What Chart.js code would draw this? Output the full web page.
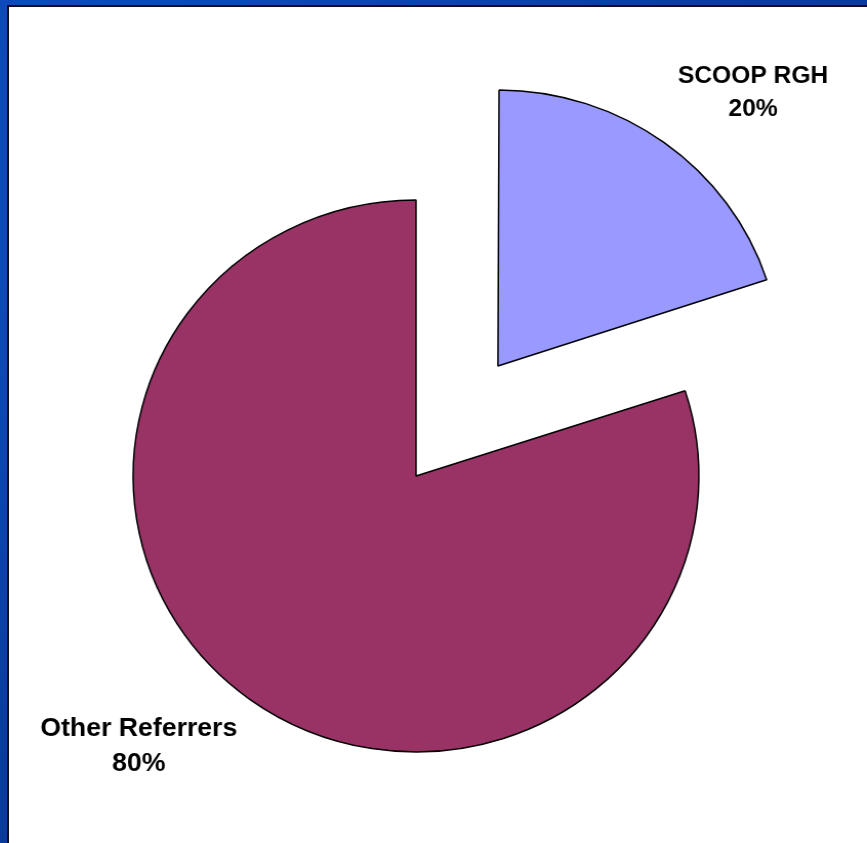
<!DOCTYPE html>
<html>
<head>
<meta charset="utf-8">
<script src="https://cdn.jsdelivr.net/npm/chart.js@4/dist/chart.umd.min.js"></script>
<style>
  html, body { margin: 0; padding: 0; }
  body {
    width: 867px; height: 843px; overflow: hidden; position: relative;
    background:
      radial-gradient(ellipse at 20% 30%, rgba(20,80,200,0.6), rgba(0,0,0,0) 60%),
      radial-gradient(ellipse at 80% 80%, rgba(10,40,140,0.6), rgba(0,0,0,0) 60%),
      linear-gradient(135deg, #0c47b8, #0a3a9e 50%, #0d4cc0);
  }
  #panel {
    position: absolute; left: 7px; top: 5px; right: -4px; bottom: -4px;
    background: #fff; border: 2px solid #111;
  }
  #c { position: absolute; left: 0; top: 0; transform: scaleX(1.025); transform-origin: 416px 0; }
</style>
</head>
<body>
<div id="panel"></div>
<canvas id="c" width="867" height="843"></canvas>
<script>
const categories = ["SCOOP RGH", "Other Referrers"];
const shares = [20, 80];
const percentLabels = ["20%", "80%"];
const sliceColors = ["#9999FF", "#993366"];

// Cancel Chart.js' radius growth on exploded slices so every slice keeps the same radius
const equalRadiusPlugin = {
  id: 'equalRadius',
  afterDatasetUpdate(chart, args) {
    const meta = chart.getDatasetMeta(args.index);
    meta.data.forEach(arc => {
      const off = ((arc.options && arc.options.offset) || 0) / 4;
      const circ = arc.endAngle - arc.startAngle;
      const fix = 1 - Math.sin(Math.min(Math.PI, circ));
      arc.outerRadius = arc.outerRadius - off * fix;
    });
  }
};

const labelPlugin = {
  id: 'sliceLabels',
  afterDatasetsDraw(chart, args, opts) {
    const ctx = chart.ctx;
    const meta = chart.getDatasetMeta(0);
    ctx.save();
    ctx.fillStyle = '#000';
    ctx.textAlign = 'center';
    ctx.textBaseline = 'middle';
    meta.data.forEach((arc, i) => {
      const p = arc.getProps(['x', 'y', 'startAngle', 'endAngle'], true);
      const R = chart.options.radius;
      const mid = (p.startAngle + p.endAngle) / 2 + opts.angleShift[i] * Math.PI / 180;
      const d = R * opts.distance[i];
      const cx = p.x + Math.cos(mid) * d;
      const cy = p.y + Math.sin(mid) * d;
      ctx.font = 'bold ' + opts.fontSize[i] + 'px "Liberation Sans", Arial, sans-serif';
      const h = opts.lineGap[i] / 2;
      ctx.fillText(categories[i], cx, cy - h);
      ctx.fillText(percentLabels[i], cx, cy + h);
    });
    ctx.restore();
  }
};

new Chart(document.getElementById('c'), {
  type: 'pie',
  data: {
    labels: categories,
    datasets: [{
      data: shares,
      backgroundColor: sliceColors,
      borderColor: '#000',
      borderWidth: 1.5,
      offset: [544, 0]
    }]
  },
  options: {
    responsive: false,
    animation: false,
    devicePixelRatio: 1,
    radius: 276,
    layout: { padding: { left: 0, right: 35, top: 109, bottom: 0 } },
    plugins: {
      legend: { display: false },
      tooltip: { enabled: false },
      sliceLabels: {
        distance: [1.829, 1.385],
        angleShift: [4.65, 9.03],
        fontSize: [24, 26],
        lineGap: [33, 35]
      }
    },
    events: []
  },
  plugins: [equalRadiusPlugin, labelPlugin]
});
</script>
</body>
</html>
